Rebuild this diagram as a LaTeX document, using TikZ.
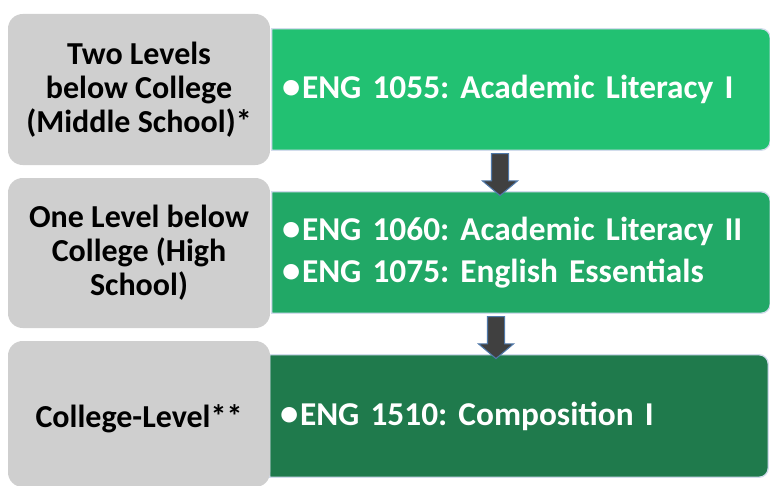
\documentclass[tikz,border=0pt]{standalone}
\usepackage{fontspec}
\setmainfont{Carlito}
\frenchspacing
\usetikzlibrary{shapes.arrows,calc,backgrounds}

\definecolor{lvlgrey}{HTML}{CFCFCF}
\definecolor{engA}{HTML}{22C172}
\definecolor{engB}{HTML}{21A866}
\definecolor{engC}{HTML}{1F7A4C}
\definecolor{edgeblue}{HTML}{D2DCEC}
\definecolor{arrfill}{HTML}{404040}
\definecolor{arrline}{HTML}{5079AA}

\newcommand{\crs}[1]{\makebox[15pt][l]{\scalebox{1.1}{\textbullet}}#1}

\tikzset{
  lvl/.style={fill=lvlgrey, rounded corners=11pt, minimum width=196.5pt, inner sep=0pt,
    align=center, font=\fontsize{24}{25.5}\selectfont\bfseries},
  eng/.style={minimum width=373.5pt, text width=358.5pt, inner xsep=7.5pt, align=left,
    text=white, font=\fontsize{25}{32}\selectfont\bfseries},
  engbox/.style={fill=#1, draw=edgeblue, line width=1pt},
  downarr/.style={single arrow, shape border rotate=270, fill=arrfill, draw=arrline,
    line width=0.8pt, inner sep=6pt, single arrow head extend=6.75pt,
    single arrow tip angle=100, minimum height=31.5pt}
}

\begin{document}
\begin{tikzpicture}[x=0.75pt,y=0.75pt,yscale=-1,xscale=1]
\useasboundingbox (0,0) rectangle (770,485);

% Level boxes
\node[lvl, minimum height=113.25pt] (lvlA) at (139,89.5) {Two Levels\\below College\\(Middle School)*};
\node[lvl, minimum height=112.5pt] (lvlB) at (139,253) {One Level below\\College (High\\School)};
\node[lvl, minimum height=109.5pt] (lvlC) at (139,414) {\rule{0pt}{24pt}College-Level**};

% Course boxes
\node[eng, minimum height=90.75pt] (engA) at (521,89.5) {\crs{ENG 1055: Academic Literacy I}};
\node[eng, minimum height=90.75pt] (engB) at (521,252.5) {\crs{ENG 1060: Academic Literacy II}\\\crs{ENG 1075: English Essentials}};
\node[eng, minimum height=91.5pt] (engC) at (519,416) {\crs{ENG 1510: Composition I}};

\begin{scope}[on background layer]
\foreach \n in {engA,engB,engC}
  \draw[engbox=\n] (\n.south west) -- (\n.north west) [rounded corners=7pt] -- (\n.north east)
    -- (\n.south east) [sharp corners] -- cycle;
\end{scope}

% Arrows
\node[downarr] (arrA) at ($(engA.south)!0.5!(engB.north)+(-21,0)$) {};
\node[downarr] (arrB) at ($(engB.south)!0.5!(engC.north)+(-24,0)$) {};

\end{tikzpicture}
\end{document}
